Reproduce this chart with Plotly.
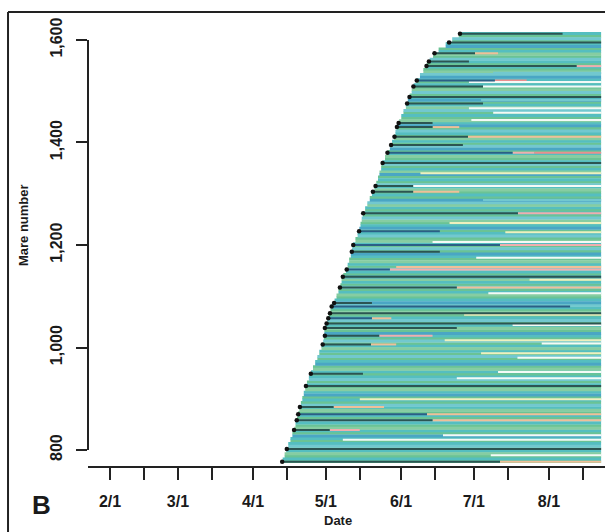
import plotly.graph_objects as go

# ---------------- axis labels ----------------
tick_days = [32, 46, 60, 74, 91, 105, 121, 135, 152, 166, 182, 196, 213, 227]
tick_text = ['2/1', '', '3/1', '', '4/1', '', '5/1', '', '6/1', '', '7/1', '', '8/1', '']
y_ticks = [800, 1000, 1200, 1400, 1600]
y_text = ['800', '1,000', '1,200', '1,400', '1,600']

# ---------------- data (day of year) ----------------
# mares grouped in bands of 10, with the first recorded day of each band
band_mare = [780, 790, 800, 810, 820, 830, 840, 850, 860, 870, 880, 890, 900, 910, 920,
             930, 940, 950, 960, 970, 980, 990, 1000, 1010, 1020, 1030, 1040, 1050, 1060,
             1070, 1080, 1090, 1100, 1110, 1120, 1130, 1140, 1150, 1160, 1170, 1180, 1190,
             1200, 1210, 1220, 1230, 1240, 1250, 1260, 1270, 1280, 1290, 1300, 1310, 1320,
             1330, 1340, 1350, 1360, 1370, 1380, 1390, 1400, 1410, 1420, 1430, 1440, 1450,
             1460, 1470, 1480, 1490, 1500, 1510, 1520, 1530, 1540, 1550, 1560, 1570, 1580,
             1590, 1600, 1610]
band_start = [103.2, 104.0, 104.7, 105.5, 106.4, 107.2, 108.0, 108.5, 109.1, 109.6, 110.1,
              110.7, 111.3, 111.9, 112.5, 113.2, 114.0, 114.9, 115.7, 116.6, 117.5, 118.3,
              119.2, 119.9, 120.2, 120.4, 120.7, 121.5, 122.2, 122.9, 123.4, 124.6, 125.4,
              126.2, 127.0, 127.5, 128.2, 129.3, 130.0, 130.6, 131.3, 131.8, 132.3, 133.2,
              134.1, 134.8, 135.3, 135.8, 136.3, 137.2, 138.1, 139.1, 140.0, 141.0, 141.8,
              142.5, 143.1, 143.8, 144.4, 145.4, 146.4, 147.4, 148.3, 149.1, 149.7, 150.3,
              151.2, 152.1, 153.0, 154.0, 154.8, 155.6, 156.4, 157.2, 158.4, 159.8, 161.2,
              162.6, 163.8, 165.2, 167.5, 170.4, 173.1, 175.8]
# two rows of 5 mares per band, colour code of each row (bottom to top)
row_colors = ("gtgmtgctgtbg" "tmgtcgtgmtcg" "tgbtmgtgctgt" "mgbtgcgtmtgc"
              "gtbgmtgctgmg" "tcbtgmtgcgtm" "bgtcgtmgtbgc" "gtmgctgbtgmc"
              "gtgtmcbgtgmt" "cgtgbmtgctgm" "tgbcgtmgtcgb" "tmgtgcmtgbtg"
              "cmgtgtbcmgtg" "tcgmtgbtgcgt")
last_day = 234.5

# individually marked mares (dot = first record, dark segment)
dark_mare = [1612, 1595, 1574, 1558, 1549, 1521, 1509, 1489, 1476, 1438, 1430, 1411, 1395,
             1380, 1360, 1315, 1304, 1262, 1227, 1200, 1187, 1152, 1138, 1117, 1087, 1080,
             1067, 1057, 1047, 1038, 1023, 1006, 949, 925, 884, 870, 858, 839, 802, 777]
dark_start = [176.3, 171.8, 165.8, 163.5, 162.5, 158.5, 157.1, 155.5, 154.5, 151.0, 150.3,
              149.3, 147.9, 146.4, 144.4, 141.5, 140.4, 136.4, 134.7, 132.3, 131.7, 129.6,
              128.0, 126.8, 124.4, 123.4, 122.7, 122.0, 121.3, 120.6, 120.6, 119.7, 114.8,
              112.8, 110.3, 109.6, 109.0, 107.9, 104.9, 103.0]
dark_end = [218.6, 234.5, 182.5, 180.0, 224.4, 190.7, 185.8, 234.5, 185.8, 165.0, 165.0,
            179.6, 177.5, 198.0, 234.5, 157.0, 157.0, 200.2, 168.0, 192.8, 168.0, 147.4,
            234.5, 175.0, 140.0, 221.7, 234.5, 140.0, 234.5, 175.0, 143.0, 139.6, 136.3,
            234.5, 124.2, 162.7, 165.0, 122.6, 234.5, 192.8]
dark_col = "kkkkknkkkkkkknkkkknnknkkknknkkkkkkknkkkk"

# coloured segments later in the season
seg_mare = [1574, 1549, 1521, 1509, 1430, 1411, 1380, 1380, 1315, 1304, 1262, 1200, 1152,
            1117, 1057, 1023, 1006, 884, 870, 858, 839, 777,
            1536, 1518, 1483, 1467, 1458, 1444, 1340, 1288, 1243, 1225, 1206, 1175, 1157,
            1132, 1106, 1064, 1044, 1014, 1008, 989, 980, 952, 940, 899, 829, 820, 790]
seg_from = [182.5, 224.4, 190.7, 185.8, 165.0, 179.6, 198.0, 207.0, 157.0, 157.0, 200.2,
            192.8, 147.4, 175.0, 140.0, 143.0, 139.6, 124.2, 162.7, 165.0, 122.6, 192.8,
            190.0, 180.0, 185.0, 180.0, 190.0, 181.0, 160.0, 185.8, 172.0, 195.0, 165.0,
            183.0, 150.0, 205.0, 188.0, 178.0, 198.0, 170.0, 210.0, 185.0, 200.0, 192.0,
            175.0, 135.0, 169.3, 128.0, 189.0]
seg_to = [192.0, 234.5, 203.8, 234.5, 176.0, 234.5, 207.0, 234.5, 234.5, 176.0, 234.5,
          234.5, 234.5, 234.5, 148.0, 165.0, 150.0, 145.0, 234.5, 234.5, 135.0, 234.5,
          234.5, 234.5, 234.5, 234.5, 234.5, 234.5, 234.5, 234.5, 234.5, 234.5, 234.5,
          234.5, 234.5, 234.5, 234.5, 234.5, 234.5, 234.5, 234.5, 234.5, 234.5, 234.5,
          234.5, 234.5, 234.5, 234.5, 234.5]
seg_col = "oprwooprwopppoopoooopocwcwwwycyywwoywywywywwwywww"

palette = {
    't': '#55bec0', 'g': '#6ac395', 'c': '#72c8cf', 'm': '#86cda2', 'b': '#4aa6c4',
    'k': '#2c5552', 'n': '#2b5f86', 'w': '#f4faf7', 'y': '#eef0bd', 'p': '#efaeae',
    'o': '#efbf98', 'r': '#e98f8f',
}

fig = go.Figure()


def add_group(xs0, xs1, ys, codes, width):
    groups = {}
    for a, b, yv, cc in zip(xs0, xs1, ys, codes):
        gx, gy = groups.setdefault(cc, ([], []))
        gx += [a, b, None]
        gy += [yv, yv, None]
    for cc, (gx, gy) in groups.items():
        fig.add_trace(go.Scatter(x=gx, y=gy, mode='lines', hoverinfo='skip',
                                 line=dict(color=palette[cc], width=width),
                                 showlegend=False))


# base rows
r_x0, r_x1, r_y = [], [], []
for m, s in zip(band_mare, band_start):
    for off in (-2.5, 2.5):
        r_x0.append(s)
        r_x1.append(last_day)
        r_y.append(m + off)
add_group(r_x0, r_x1, r_y, row_colors[:len(r_y)], 3.0)

# later coloured segments
add_group(seg_from, seg_to, seg_mare, seg_col[:len(seg_mare)], 2.0)

# marked mares
add_group(dark_start, dark_end, dark_mare, dark_col, 2.0)
fig.add_trace(go.Scatter(x=dark_start, y=dark_mare, mode='markers', hoverinfo='skip',
                         marker=dict(color='#111111', size=4.5), showlegend=False))

FONT = "Liberation Sans, Arial, Helvetica, sans-serif"

fig.update_layout(
    width=605, height=532, autosize=False,
    margin=dict(l=88, r=0, t=12, b=66, pad=0),
    paper_bgcolor='white', plot_bgcolor='white',
    font=dict(family=FONT, color='#1a1a1a'),
    xaxis=dict(range=[22.93, 236.1], tickmode='array', tickvals=tick_days,
               ticktext=tick_text, ticks='outside', ticklen=12, tickwidth=2,
               tickcolor='#222', showline=True, linecolor='#222', linewidth=2,
               showgrid=False, zeroline=False, ticklabelstandoff=8,
               tickfont=dict(family=FONT, size=16, weight='bold', color='#1a1a1a')),
    yaxis=dict(range=[768.8, 1654.6], tickmode='array', tickvals=y_ticks,
               ticktext=y_text, ticks='outside', ticklen=11, tickwidth=1.5,
               tickcolor='#222', showline=False, showgrid=False, zeroline=False,
               tickangle=-90, ticklabelstandoff=8,
               tickfont=dict(family=FONT, size=16, weight='bold', color='#1a1a1a')),
    shapes=[
        dict(type='line', xref='paper', yref='y', x0=0, x1=0, y0=800, y1=1600,
             line=dict(color='#222', width=2)),
        dict(type='line', xref='paper', yref='paper', x0=-0.1547, x1=-0.1547, y0=-0.3, y1=1,
             line=dict(color='#222', width=2)),
        dict(type='line', xref='paper', yref='paper', x0=-0.1547, x1=1.1, y0=1, y1=1,
             line=dict(color='#222', width=2)),
    ],
    annotations=[
        dict(text='<b>Date</b>', xref='paper', yref='paper', x=0.4836, y=-0.121,
             xanchor='center', yanchor='middle', showarrow=False,
             font=dict(family=FONT, size=13, color='#1a1a1a')),
        dict(text='<b>Mare number</b>', xref='paper', yref='paper', x=-0.1257, y=0.5308,
             xanchor='center', yanchor='middle', showarrow=False, textangle=-90,
             font=dict(family=FONT, size=13, color='#1a1a1a')),
        dict(text='<b>B</b>', xref='paper', yref='paper', x=-0.0909, y=-0.0859,
             xanchor='center', yanchor='middle', showarrow=False,
             font=dict(family=FONT, size=26, color='#1a1a1a')),
    ],
)

fig.write_html("out.html")
